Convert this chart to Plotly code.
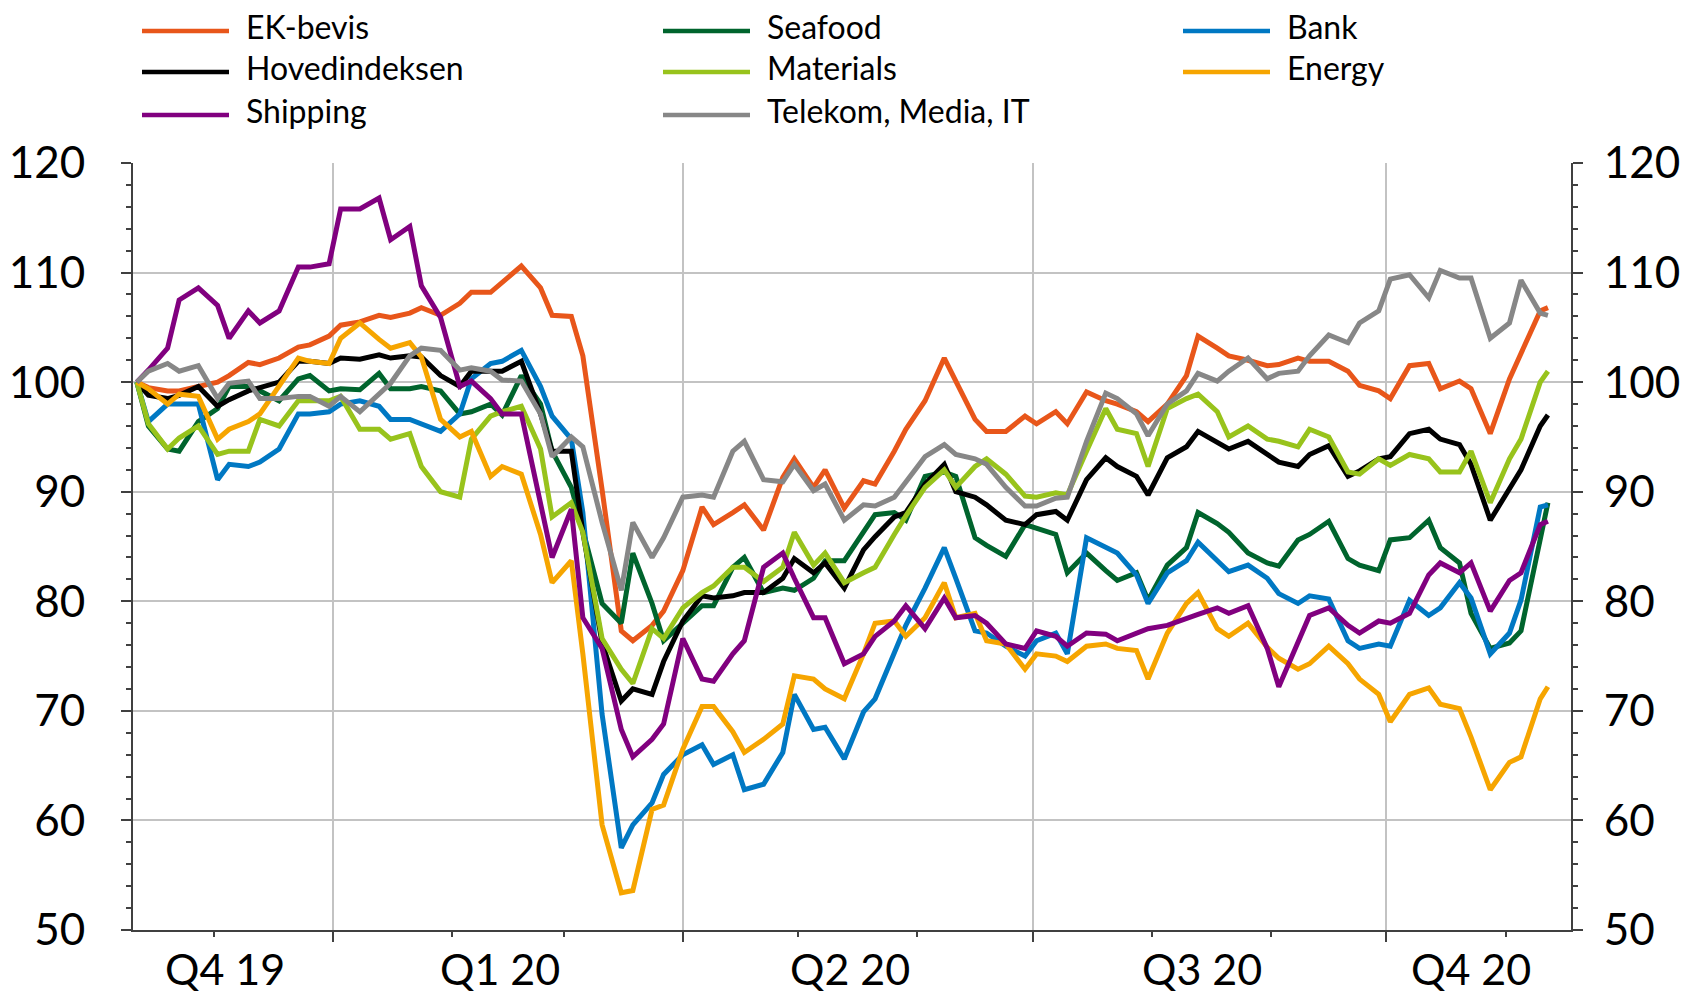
import pandas as pd
import plotly.graph_objects as go

# Index values (start = 100), read every third trading day plus the last day
bdays = pd.bdate_range('2019-11-11', '2020-11-12')
dates = bdays[::3].append(bdays[-1:])

ek_bevis = [100, 99.5, 99.2, 99.2, 99.6, 100, 100.6, 101.8, 101.6, 102.2, 103.2, 103.4, 104.2, 105.2, 105.5,
            106.1, 105.9, 106.3, 106.8, 106.1, 107.2, 108.2, 108.2, 109.1, 110.6, 108.6, 106.1, 106, 102.4, 90.2,
            77.3, 76.4, 77.8, 79.1, 82.8, 88.6, 87, 88.1, 88.8, 86.5, 91.3, 93, 90.4, 92, 88.5,
            91, 90.7, 93.7, 95.7, 98.3, 102.2, 100.1, 96.6, 95.5, 95.5, 96.9, 96.2, 97.3, 96.2, 99.1,
            98.3, 98, 97.3, 96.4, 98, 100.6, 104.2, 103.1, 102.4, 102, 101.5, 101.6, 102.2, 101.9,
            101.9, 101, 99.7, 99.2, 98.5, 101.5, 101.7, 99.4, 100.1, 99.4, 95.3, 100.3, 102.6, 106.5, 106.8]

seafood = [100, 96, 93.9, 93.7, 96.4, 97.6, 99.6, 99.6, 99.2, 98.3, 100.3, 100.6, 99.2, 99.4, 99.3,
           100.8, 99.4, 99.4, 99.6, 99.2, 97.1, 97.3, 98, 97, 100.6, 98, 93.7, 90.4, 86.5, 79.8,
           78, 84.4, 79.8, 76.4, 78, 79.6, 79.6, 83.1, 84, 80.8, 81.2, 81, 82.1, 83.7, 83.7,
           86.3, 87.9, 88.1, 87.4, 91.4, 91.8, 91.4, 85.8, 85.1, 84.1, 87, 86.7, 86.1, 82.6, 84.4,
           82.8, 81.9, 82.6, 80.1, 83.3, 84.9, 88.1, 87.1, 86.3, 84.4, 83.5, 83.2, 85.6, 86.1,
           87.3, 83.9, 83.3, 82.8, 85.6, 85.8, 87.4, 84.9, 83.5, 78.9, 75.7, 76.2, 77.3, 85.8, 89]

bank = [100, 96.4, 98, 98, 98, 91.1, 92.5, 92.3, 92.7, 93.9, 97.1, 97.1, 97.3, 98, 98.3,
        97.8, 96.6, 96.6, 96.2, 95.5, 97.1, 100.3, 101.7, 101.9, 102.9, 99.6, 96.9, 94.8, 88.1, 69.7,
        57.5, 59.6, 61.6, 64.2, 66, 66.9, 65.1, 66, 62.8, 63.3, 66.2, 71.5, 68.3, 68.5, 65.6,
        69.9, 71.1, 75.2, 77.8, 81.2, 84.9, 82.1, 77.3, 77.1, 75.9, 75, 76.4, 77.1, 75.2, 85.8,
        84.9, 84.4, 82.4, 79.8, 82.6, 83.7, 85.4, 83.7, 82.7, 83.3, 82.1, 80.7, 79.8, 80.5,
        80.2, 76.4, 75.7, 76.1, 75.9, 80.1, 78.7, 79.4, 81.7, 80.3, 75.2, 77.1, 80.1, 88.6, 88.8]

hovedindeksen = [100, 98.8, 98.5, 98.8, 99.6, 97.8, 98.4, 99.2, 99.5, 100, 101.9, 101.9, 101.7, 102.2, 102.1,
                 102.5, 102.2, 102.4, 102.3, 100.6, 99.6, 101, 101, 101, 101.9, 97.1, 93.7, 93.7, 86.3, 76.2,
                 70.9, 72, 71.5, 74.5, 78.2, 80.5, 80.3, 80.5, 80.8, 80.8, 82.1, 83.9, 82.6, 83.5, 81.2,
                 84.7, 85.9, 87.7, 88.1, 90.7, 92.5, 90, 89.5, 88.8, 87.4, 87, 87.9, 88.2, 87.4, 91.1,
                 93.1, 92.3, 91.4, 89.7, 93.1, 94.1, 95.5, 94.5, 93.9, 94.6, 93.4, 92.7, 92.3, 93.4,
                 94.2, 91.4, 91.9, 93, 93.2, 95.3, 95.7, 94.8, 94.3, 92.5, 87.4, 90.2, 92, 96, 97]

materials = [100, 96.2, 93.9, 94.9, 96, 93.4, 93.7, 93.7, 96.6, 96, 98.3, 98.3, 98.3, 98.7, 95.7,
             95.7, 94.8, 95.3, 92.3, 90, 89.5, 94.8, 96.9, 97.3, 97.8, 93.9, 87.7, 89, 86.3, 76.6,
             73.8, 72.5, 77.5, 76.6, 79.4, 80.8, 81.4, 83.1, 83.1, 81.8, 83.1, 86.3, 83.3, 84.4, 81.7,
             82.6, 83.1, 86.1, 87.8, 90.4, 92, 90.4, 92.3, 93, 91.6, 89.6, 89.5, 89.9, 89.7, 93.7,
             97.6, 95.7, 95.3, 92.3, 97.6, 98.5, 98.9, 97.3, 95, 96, 94.8, 94.6, 94.1, 95.7,
             95, 91.8, 91.6, 93, 92.4, 93.4, 93, 91.8, 91.8, 93.7, 89, 93, 94.8, 100, 101]

energy = [100, 99.4, 98, 98.9, 98.7, 94.8, 95.7, 96.4, 97.1, 99.6, 102.2, 101.9, 101.7, 104, 105.4,
          103.9, 103.1, 103.6, 102.3, 96.6, 95, 95.5, 91.4, 92.3, 91.6, 86.1, 81.7, 83.7, 75.2, 59.6,
          53.4, 53.6, 61, 61.4, 66.5, 70.4, 70.4, 68.1, 66.2, 67.4, 68.8, 73.2, 72.9, 72, 71.1,
          75.2, 78, 78.2, 76.8, 78.5, 81.7, 78.5, 78.9, 76.4, 76.1, 73.8, 75.2, 75, 74.5, 75.9,
          76.1, 75.7, 75.5, 72.9, 77.1, 79.8, 80.8, 77.5, 76.8, 78, 75.8, 74.8, 73.8, 74.3,
          75.9, 74.3, 72.9, 71.5, 69, 71.5, 72.1, 70.6, 70.2, 67.6, 62.8, 65.3, 65.8, 71.1, 72.2]

shipping = [100, 101.1, 103.1, 107.5, 108.6, 107, 104, 106.5, 105.4, 106.5, 110.5, 110.5, 110.8, 115.8, 115.8,
            116.8, 113, 114.2, 108.8, 105.9, 99.6, 100.1, 98.5, 97.1, 97.1, 88.8, 84, 88.4, 78.5, 75.7,
            68.3, 65.8, 67.4, 68.8, 76.6, 72.9, 72.7, 75.2, 76.4, 83.1, 84.4, 82.1, 78.5, 78.5, 74.3,
            75.2, 76.8, 78.2, 79.6, 77.5, 80.3, 78.5, 78.7, 78, 76.1, 75.7, 77.3, 76.8, 75.9, 77.1,
            77, 76.4, 77.1, 77.5, 77.8, 78.5, 78.8, 79.4, 78.9, 79.6, 75.7, 72.2, 76.1, 78.7,
            79.4, 77.8, 77.1, 78.2, 78, 78.9, 82.4, 83.5, 82.6, 83.5, 79.1, 81.9, 82.6, 87, 87.3]

telekom = [100, 101, 101.7, 101, 101.5, 98.5, 99.9, 100.1, 98.5, 98.5, 98.7, 98.7, 97.8, 98.7, 97.3,
           98.9, 99.9, 102.4, 103.1, 102.9, 101.1, 101.3, 101, 100.2, 100.1, 97.1, 93.2, 95, 94.1, 87.2,
           81, 87.2, 84, 85.8, 89.5, 89.7, 89.5, 93.7, 94.6, 91.1, 90.9, 92.5, 90.1, 90.7, 87.4,
           88.8, 88.7, 89.5, 90.9, 93.2, 94.3, 93.4, 93, 92.5, 90.4, 88.7, 88.7, 89.4, 89.5, 94.6,
           99, 98.5, 97.1, 95.1, 98, 99.2, 100.8, 100.1, 101, 102.2, 100.3, 100.8, 101, 102.4,
           104.3, 103.6, 105.4, 106.5, 109.4, 109.8, 107.7, 110.2, 109.5, 109.5, 104, 105.4, 109.3, 106.3, 106.1]

# legend order is row by row, three columns
names = ['EK-bevis', 'Seafood', 'Bank', 'Hovedindeksen', 'Materials', 'Energy',
         'Shipping', 'Telekom, Media, IT']
values = [ek_bevis, seafood, bank, hovedindeksen, materials, energy, shipping, telekom]
colors = ['#E8561A', '#00642D', '#0078C3', '#000000', '#98C31C', '#F6A500',
          '#81007F', '#878787']

quarter_starts = ['2020-01-01', '2020-04-01', '2020-07-01', '2020-10-01']
month_starts = [d for d in pd.date_range('2019-12-01', '2020-11-01', freq='MS')
                if d.strftime('%Y-%m-%d') not in quarter_starts]
quarter_labels = ['Q4 19', 'Q1 20', 'Q2 20', 'Q3 20', 'Q4 20']
x_range = ['2019-11-10', '2020-11-18']

FONT = 'Lato'
AXIS_COL = '#404040'
GRID_COL = '#C3C3C3'

# plot area in pixels
L, R, T, B = 133, 1571, 163, 930


def px(p):
    return (p - L) / (R - L)


def py(p):
    return (B - p) / (B - T)


fig = go.Figure()
for i, (name, vals, col) in enumerate(zip(names, values, colors)):
    # last series goes on the right-hand axis so that axis gets drawn (same scale)
    fig.add_trace(go.Scatter(x=dates, y=vals, name=name, mode='lines',
                             yaxis='y2' if i == len(names) - 1 else 'y',
                             line=dict(color=col, width=5), showlegend=False))

# quarter labels centred in each quarter span
bounds = pd.to_datetime([x_range[0]] + quarter_starts + [x_range[1]])
annotations = []
for i, lab in enumerate(quarter_labels):
    mid = bounds[i] + (bounds[i + 1] - bounds[i]) / 2
    annotations.append(dict(x=mid, y=0, xref='x', yref='paper', text=lab,
                            showarrow=False, xanchor='center', yanchor='middle',
                            xshift=-8, yshift=-38,
                            font=dict(family=FONT, size=43, color='black')))

# hand-made legend, 3 columns
col_x = [142, 663, 1183]
line_y = [31, 72, 115]
shapes = []
for i, (name, col) in enumerate(zip(names, colors)):
    r, c = divmod(i, 3)
    shapes.append(dict(type='line', xref='paper', yref='paper',
                       x0=px(col_x[c]), x1=px(col_x[c] + 87),
                       y0=py(line_y[r]), y1=py(line_y[r]),
                       line=dict(color=col, width=4.5)))
    annotations.append(dict(x=px(col_x[c] + 102), y=py(line_y[r] - 4),
                            xref='paper', yref='paper', text=name,
                            showarrow=False, xanchor='left', yanchor='middle',
                            font=dict(family=FONT, size=32, color='black')))

yax = dict(range=[50, 120], tickvals=list(range(50, 121, 10)),
           ticks='outside', ticklen=10, tickwidth=2, tickcolor=AXIS_COL,
           showline=True, linecolor=AXIS_COL, linewidth=2, zeroline=False,
           automargin=False,
           tickfont=dict(family=FONT, size=44, color='black'),
           minor=dict(tickvals=[v for v in range(50, 121, 2) if v % 10],
                      ticks='outside', ticklen=5, tickwidth=2,
                      tickcolor=AXIS_COL, showgrid=False))

fig.update_layout(
    width=1686, height=994,
    margin=dict(l=L, r=1686 - R, t=T, b=994 - B, autoexpand=False),
    paper_bgcolor='white', plot_bgcolor='white',
    font=dict(family=FONT, color='black'),
    xaxis=dict(type='date', range=x_range, tickvals=quarter_starts,
               ticks='outside', ticklen=10, tickwidth=2, tickcolor=AXIS_COL,
               showticklabels=False, showgrid=True, gridcolor=GRID_COL,
               gridwidth=1.5, showline=True, linecolor=AXIS_COL, linewidth=2,
               zeroline=False, automargin=False,
               minor=dict(tickvals=month_starts, ticks='outside', ticklen=5,
                          tickwidth=2, tickcolor=AXIS_COL, showgrid=False)),
    yaxis=dict(yax, showgrid=True, gridcolor=GRID_COL, gridwidth=1.5,
               ticklabelstandoff=27),
    yaxis2=dict(yax, overlaying='y', side='right', anchor='x', showgrid=False,
                ticklabelstandoff=12),
    annotations=annotations,
    shapes=shapes,
)

# the page's default body margin would offset the whole figure
fig.write_html("out.html", config={'displayModeBar': False},
               post_script="document.body.style.margin='0px';")
